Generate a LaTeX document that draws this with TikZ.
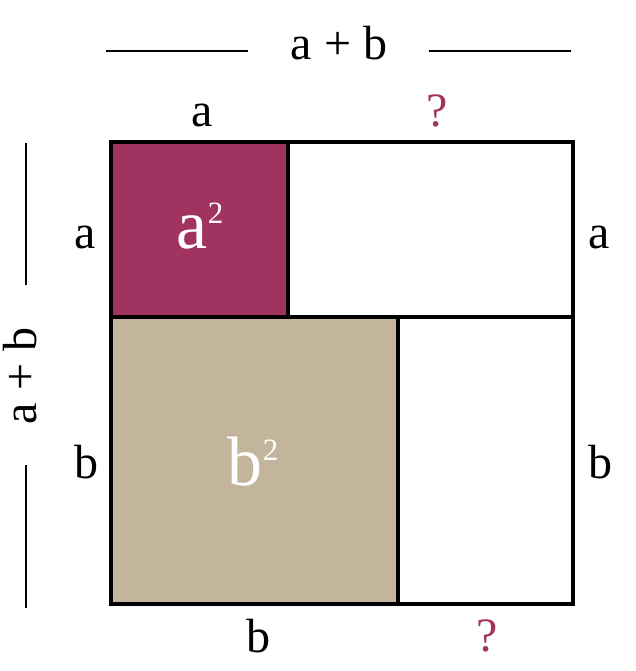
\documentclass[tikz,border=0pt]{standalone}
\usepackage{fontspec}
\setmainfont{Liberation Serif}

\definecolor{plum}{HTML}{A0335F}
\definecolor{sand}{HTML}{C2B59B}

\tikzset{
  lbl/.style={anchor=base, inner sep=0pt, font=\fontsize{48}{48}\selectfont},
  area/.style={anchor=base, inner sep=0pt, text=white, font=\fontsize{70}{70}\selectfont},
  span/.style={line width=2pt},
  edge/.style={line width=3.5pt},
}
\newcommand{\sqlabel}[1]{#1\raisebox{0.75ex}{\fontsize{31}{31}\selectfont 2}}

\begin{document}
\begin{tikzpicture}[x=1pt, y=-1pt]

    % Fix the margins of the page
    \useasboundingbox (0,0) rectangle (636,671);

    % Corners of the big square and of the two inner squares
    \coordinate (TL) at (111,142);
    \coordinate (BR) at (573,604);
    \coordinate (Acorner) at (288,317);
    \coordinate (Bleft) at (111,317);
    \coordinate (Bright) at (573,317);
    \coordinate (Bcorner) at (398,604);

    % Fill the two squares a^2 and b^2
    \fill[plum] (TL) rectangle (Acorner);
    \fill[sand] (Bleft) rectangle (Bcorner);

    % Outline and the dividing lines
    \draw[edge] (TL) rectangle (BR);
    \draw[edge] (Bleft) -- (Bright);
    \draw[edge] (Acorner) -- (Acorner |- TL);
    \draw[edge] (Bcorner) -- (Bcorner |- Bleft);

    % Lines on either side of the a + b labels
    \draw[span] (106,51) -- (248,51);
    \draw[span] (429,51) -- (571,51);
    \draw[span] (26,143) -- (26,285);
    \draw[span] (26,465) -- (26,608);

    % The a + b labels
    \node[lbl] (topsum) at (339,60) {a + b};
    \node[lbl, rotate=90] (leftsum) at (36,376) {a + b};

    % Side labels
    \node[lbl] (topa) at (202,127) {a};
    \node[lbl, text=plum] (topq) at (437,127) {?};
    \node[lbl] (lefta) at (85,248) {a};
    \node[lbl] (righta) at (599,248) {a};
    \node[lbl] (leftb) at (86,478) {b};
    \node[lbl] (rightb) at (600,478) {b};
    \node[lbl] (botb) at (258,652) {b};
    \node[lbl, text=plum] (botq) at (487,651) {?};

    % Areas inside the squares
    \node[area] (asq) at (200,248) {\sqlabel{a}};
    \node[area] (bsq) at (253,485) {\sqlabel{b}};

\end{tikzpicture}
\end{document}
